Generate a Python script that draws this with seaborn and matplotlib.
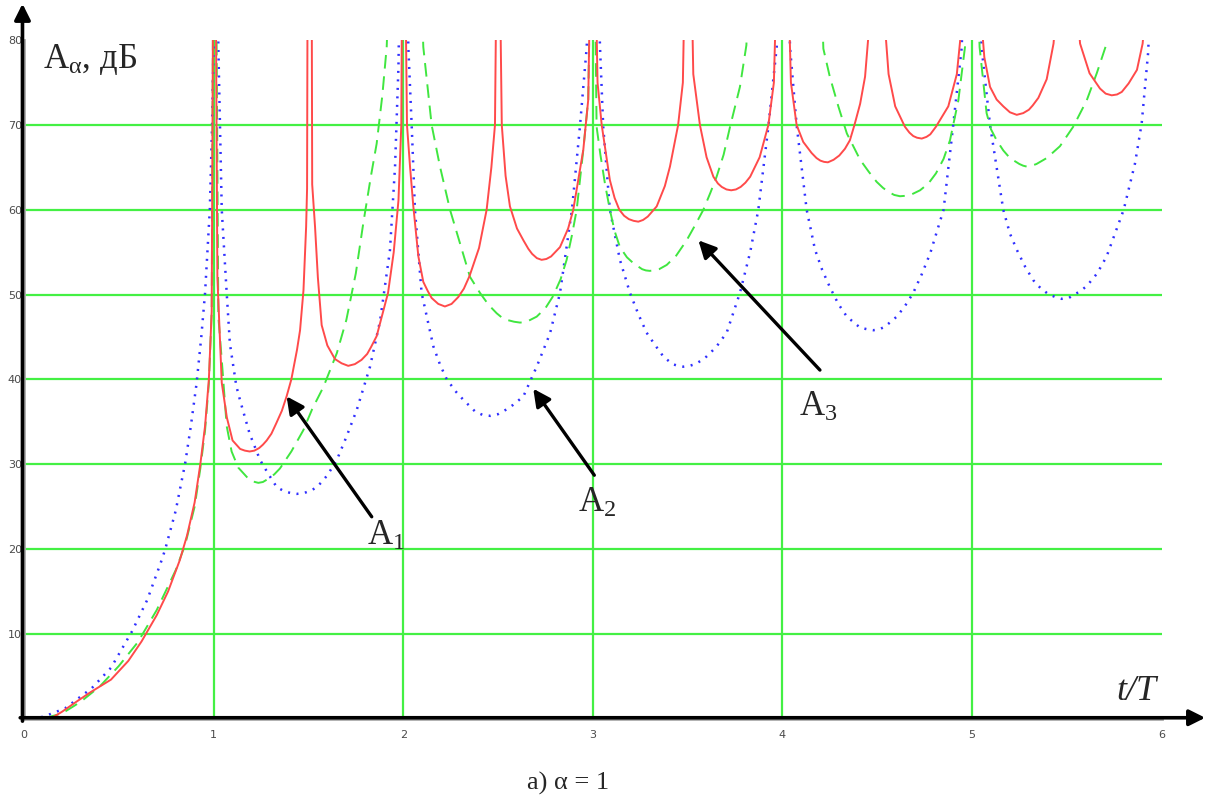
import numpy as np
import pandas as pd
import matplotlib
matplotlib.use("Agg")
import matplotlib.pyplot as plt
import seaborn as sns

# ── Données (t/T, A en dB), segment par segment ──────────────────────────────
# A1 : courbe rouge continue
a1_t = [0.0, 0.1, 0.156, 0.2, 0.277, 0.35, 0.459, 0.55, 0.62, 0.7, 0.76, 0.822, 0.86, 0.9,
        0.93, 0.955, 0.975, 0.99, 1.0,
        1.008, 1.02, 1.043, 1.07, 1.10, 1.14, 1.165, 1.19, 1.215, 1.24, 1.26, 1.28, 1.305,
        1.33, 1.36, 1.385, 1.41, 1.44, 1.456, 1.474, 1.488, 1.493, 1.497,
        1.516, 1.52, 1.535, 1.55, 1.57, 1.6, 1.64, 1.675, 1.71, 1.745, 1.78, 1.81, 1.83, 1.86,
        1.92, 1.95, 1.975, 1.99, 1.997,
        2.005, 2.02, 2.036, 2.053, 2.08, 2.106, 2.13, 2.15, 2.185, 2.22, 2.255, 2.29, 2.32,
        2.35, 2.40, 2.44, 2.465, 2.484, 2.497,
        2.503, 2.52, 2.54, 2.563, 2.6, 2.634, 2.66, 2.68, 2.705, 2.73, 2.755, 2.78, 2.827,
        2.87, 2.897, 2.95, 2.976, 2.995,
        3.005, 3.025, 3.047, 3.09, 3.115, 3.14, 3.165, 3.19, 3.215, 3.24, 3.265, 3.29, 3.337,
        3.38, 3.407, 3.45, 3.475, 3.495,
        3.51, 3.53, 3.565, 3.6, 3.636, 3.66, 3.68, 3.705, 3.73, 3.755, 3.78, 3.805, 3.83,
        3.88, 3.926, 3.955, 3.985,
        4.015, 4.045, 4.075, 4.11, 4.154, 4.18, 4.20, 4.22, 4.24, 4.27, 4.30, 4.33, 4.356,
        4.38, 4.41, 4.436, 4.47,
        4.53, 4.56, 4.595, 4.646, 4.67, 4.69, 4.71, 4.735, 4.76, 4.78, 4.81, 4.875, 4.92, 4.96,
        5.04, 5.065, 5.095, 5.13, 5.165, 5.20, 5.236, 5.27, 5.30, 5.32, 5.35, 5.394, 5.43, 5.45,
        5.55, 5.57, 5.62, 5.675, 5.705, 5.737, 5.765, 5.79, 5.826, 5.87, 5.90, 5.92, 6.0]
a1_db = [0, 0, 0.2, 0.8, 2.0, 3.1, 4.6, 6.8, 9.1, 12.2, 15.0, 18.7, 21.6, 25.5,
         30, 34.5, 40, 48, 100,
         100, 52, 39.6, 35.5, 32.8, 31.8, 31.6, 31.5, 31.6, 31.9, 32.3, 32.8, 33.6,
         34.8, 36.3, 38.0, 40, 43.5, 45.8, 50.5, 58, 62.5, 100,
         100, 63, 58, 52, 46.4, 44, 42.4, 41.9, 41.6, 41.8, 42.3, 43, 43.8, 45.1,
         50.2, 55, 61.1, 70, 100,
         100, 70, 65.1, 60.5, 54.5, 51.5, 50.4, 49.6, 48.9, 48.6, 48.9, 49.7, 50.7,
         52.2, 55.5, 60, 65, 70, 100,
         100, 70, 64, 60.4, 57.8, 56.4, 55.4, 54.8, 54.3, 54.1, 54.2, 54.5, 55.6,
         57.8, 60, 67.1, 73, 100,
         100, 75, 70, 63.5, 61.4, 60, 59.3, 58.9, 58.7, 58.6, 58.8, 59.2, 60.4,
         62.8, 65.1, 70, 75, 100,
         100, 76, 70, 66.2, 63.9, 63.1, 62.7, 62.4, 62.3, 62.4, 62.7, 63.2, 63.9,
         66.2, 70, 75, 100,
         100, 75, 70, 68, 66.7, 66.1, 65.8, 65.65, 65.6, 65.9, 66.4, 67.2, 68.2,
         70, 72.5, 75.7, 85,
         85, 76, 72.2, 69.8, 69.1, 68.7, 68.5, 68.4, 68.6, 68.9, 69.8, 72.2, 76, 85,
         85, 78, 74.5, 73, 72.2, 71.5, 71.2, 71.4, 71.8, 72.3, 73.2, 75.4, 79.6, 85,
         85, 79.6, 76.1, 74.3, 73.7, 73.5, 73.6, 73.9, 74.9, 76.5, 79.6, 85, 90]

# A2 : courbe bleue pointillée
a2_t = [0.0, 0.1, 0.216, 0.358, 0.459, 0.57, 0.65, 0.72, 0.744, 0.8, 0.85, 0.88, 0.91, 0.935,
        0.955, 0.98, 0.992, 1.0, 1.005,
        1.015, 1.025, 1.043, 1.069, 1.086, 1.12, 1.14, 1.19, 1.245, 1.29, 1.333, 1.365, 1.39,
        1.415, 1.438, 1.465, 1.49, 1.515, 1.544, 1.57, 1.60, 1.65, 1.70, 1.755, 1.807, 1.825,
        1.878, 1.93, 1.957, 1.975, 1.99,
        2.012, 2.027, 2.045, 2.062, 2.097, 2.159, 2.195, 2.23, 2.28, 2.317, 2.38, 2.42, 2.46,
        2.50, 2.54, 2.58, 2.634, 2.704, 2.774, 2.827, 2.89, 2.932, 2.968, 2.99,
        3.01, 3.038, 3.055, 3.09, 3.143, 3.196, 3.24, 3.284, 3.33, 3.372, 3.42, 3.45, 3.477,
        3.51, 3.54, 3.57, 3.60, 3.65, 3.706, 3.776, 3.83, 3.873, 3.926, 3.97, 3.99,
        4.02, 4.04, 4.075, 4.128, 4.172, 4.21, 4.25, 4.295, 4.34, 4.41, 4.45, 4.48, 4.51,
        4.54, 4.603, 4.645, 4.69, 4.735, 4.78, 4.85, 4.90, 4.946, 4.97,
        5.03, 5.05, 5.095, 5.165, 5.20, 5.236, 5.28, 5.323, 5.36, 5.40, 5.44, 5.473, 5.51,
        5.54, 5.57, 5.605, 5.66, 5.71, 5.80, 5.86, 5.895, 5.93, 5.95, 6.0]
a2_db = [0, 0.2, 1.2, 3.6, 6.0, 10.3, 14, 18.3, 19.9, 24.5, 30.1, 34.5, 39.5, 45,
         50.2, 60, 70, 80, 100,
         100, 79.2, 60, 50.2, 44.2, 39.2, 37.5, 33.6, 30.5, 28.8, 27.3, 26.9, 26.7,
         26.55, 26.5, 26.55, 26.7, 26.9, 27.3, 27.9, 28.7, 30.5, 33.2, 36.4, 40.2, 41.5,
         46.9, 55.2, 65.1, 76.9, 100,
         100, 79.2, 69.8, 60, 50.2, 43.9, 41.7, 40, 38.5, 37.6, 36.2, 35.8, 35.7,
         35.9, 36.4, 37.0, 38, 41.5, 45.4, 50.2, 60, 69.8, 79.2, 100,
         100, 79.2, 69.8, 60, 54.1, 50.2, 47.7, 45.5, 44.0, 42.7, 41.8, 41.6, 41.5,
         41.6, 41.8, 42.2, 42.7, 43.8, 45.5, 50.2, 55, 60, 69.8, 79.2, 100,
         100, 79.2, 70, 60, 55.3, 52.9, 50.9, 48.9, 47.4, 46.1, 45.9, 45.8, 45.9,
         46.2, 47.4, 48.6, 50.2, 52.4, 54.9, 60, 69.8, 79.2, 100,
         100, 79.2, 70, 60, 57.2, 55.3, 53.3, 51.7, 50.8, 50.1, 49.7, 49.5, 49.6,
         50.0, 50.4, 51, 52.5, 54.5, 60, 65.5, 70.2, 78.8, 100, 100]

# A3 : courbe verte en tirets
a3_t = [0.0, 0.1, 0.2, 0.3, 0.4, 0.5, 0.6, 0.7, 0.8, 0.85, 0.9, 0.93, 0.955, 0.975, 0.99, 1.0,
        1.01, 1.025, 1.043, 1.069, 1.095, 1.13, 1.183, 1.21, 1.236, 1.26, 1.29, 1.32, 1.35,
        1.41, 1.473, 1.52, 1.579, 1.65, 1.70, 1.75, 1.79, 1.83, 1.86, 1.89, 1.913, 1.93,
        2.09, 2.106, 2.15, 2.194, 2.247, 2.30, 2.352, 2.405, 2.45, 2.493, 2.52, 2.55, 2.585,
        2.616, 2.64, 2.66, 2.704, 2.75, 2.79, 2.83, 2.862, 2.89, 2.915, 2.95, 2.976, 2.995,
        3.005, 3.02, 3.04, 3.064, 3.09, 3.115, 3.143, 3.18, 3.214, 3.26, 3.28, 3.30, 3.325,
        3.35, 3.39, 3.44, 3.495, 3.54, 3.583, 3.62, 3.653, 3.69, 3.724, 3.776, 3.81, 3.83,
        4.20, 4.216, 4.25, 4.295, 4.34, 4.41, 4.455, 4.497, 4.53, 4.56, 4.59, 4.62, 4.65,
        4.68, 4.726, 4.77, 4.81, 4.85, 4.884, 4.928, 4.963, 4.99,
        5.01, 5.04, 5.06, 5.077, 5.10, 5.13, 5.165, 5.20, 5.25, 5.27, 5.288, 5.315, 5.34,
        5.394, 5.464, 5.534, 5.605, 5.658, 5.71, 5.73, 6.0]
a3_db = [0, 0, 0.6, 2.0, 3.8, 6.2, 9.0, 12.8, 17.5, 20.5, 25.0, 29.5, 34, 39.5, 48, 100,
         100, 47.4, 42.3, 34.5, 31.5, 29.6, 28.3, 27.95, 27.8, 27.9, 28.3, 28.8, 29.5,
         31.5, 34, 36.5, 39.1, 43.1, 47, 52.5, 58.5, 64, 67.8, 73.5, 79.2, 90,
         90, 79.2, 70, 65.1, 60, 56, 52.1, 50.2, 48.8, 47.8, 47.3, 47.0, 46.8,
         46.7, 46.75, 46.9, 47.4, 48.4, 49.8, 51.8, 54.1, 57, 60, 67.1, 73, 100,
         100, 69.8, 66.5, 63.1, 60, 57.5, 55.6, 54.4, 53.7, 53.0, 52.85, 52.8, 52.85,
         53.0, 53.5, 54.6, 56.4, 58.2, 60, 62, 63.9, 66.5, 69.8, 74.5, 79.4, 90,
         90, 79, 75.7, 72.2, 69, 65.9, 64.5, 63.3, 62.6, 62.1, 61.75, 61.6, 61.65,
         61.8, 62.3, 63.1, 64.3, 66, 68.2, 72.9, 79.2, 100,
         100, 79.2, 75, 71.4, 69.5, 68.2, 67.0, 66.1, 65.4, 65.2, 65.1, 65.2, 65.4,
         66.1, 67.5, 69.8, 72.9, 76.1, 79.6, 90, 95]

x_ticks = [0, 1, 2, 3, 4, 5, 6]
y_ticks = [10, 20, 30, 40, 50, 60, 70, 80]

# flèches d'annotation : étiquette, pointe, queue, position du texte
labels = ["A$_1$", "A$_2$", "A$_3$"]
tips = [(1.385, 38.0), (2.686, 38.9), (3.557, 56.4)]
tails = [(1.834, 23.8), (3.008, 28.7), (4.198, 41.1)]
label_pos = [(1.81, 20.5), (2.92, 24.4), (4.09, 35.7)]

RED = "#ff4a4a"
GREEN_CURVE = "#40e640"
BLUE = "#3030ff"
GRID = "#44f044"

sns.set_style("white")
plt.rcParams["font.family"] = ["Liberation Serif", "DejaVu Serif"]
plt.rcParams["mathtext.fontset"] = "custom"
plt.rcParams["mathtext.rm"] = "Liberation Serif"
plt.rcParams["mathtext.it"] = "Liberation Serif:italic"
plt.rcParams["mathtext.default"] = "regular"

fig = plt.figure(figsize=(12.08, 8.02), dpi=100)
ax = fig.add_axes([24 / 1208, (802 - 718.6) / 802, 1137.6 / 1208, 678.4 / 802])

df1 = pd.DataFrame({"t": a1_t, "A": a1_db})
df2 = pd.DataFrame({"t": a2_t, "A": a2_db})
df3 = pd.DataFrame({"t": a3_t, "A": a3_db})

sns.lineplot(data=df2, x="t", y="A", ax=ax, sort=False, estimator=None,
             color=BLUE, lw=1.8, linestyle=(0, (0.8, 2.6)), zorder=3)
sns.lineplot(data=df3, x="t", y="A", ax=ax, sort=False, estimator=None,
             color=GREEN_CURVE, lw=1.4, linestyle=(0, (7, 4)), zorder=4)
sns.lineplot(data=df1, x="t", y="A", ax=ax, sort=False, estimator=None,
             color=RED, lw=1.4, zorder=5)

ax.set_xlim(0, 6)
ax.set_ylim(0, 80)
ax.set_xticks(x_ticks)
ax.set_yticks(y_ticks)
ax.set_xticklabels([str(v) for v in x_ticks], family="DejaVu Sans", fontsize=8, color="#4a4a4a")
ax.set_yticklabels([str(v) for v in y_ticks], family="DejaVu Sans", fontsize=8, color="#4a4a4a")
ax.tick_params(axis="x", length=0, pad=8)
ax.tick_params(axis="y", length=0, pad=1.5)
ax.set_xlabel("")
ax.set_ylabel("")

ax.grid(True, color=GRID, lw=1.6, zorder=1)
ax.set_axisbelow(True)
ax.yaxis.get_gridlines()[-1].set_visible(False)
ax.xaxis.get_gridlines()[0].set_visible(False)
ax.xaxis.get_gridlines()[-1].set_visible(False)

for side in ["top", "right"]:
    ax.spines[side].set_visible(False)
for side in ["left", "bottom"]:
    ax.spines[side].set_color("#aaaaaa")
    ax.spines[side].set_linewidth(2)

# axes fléchés
arrow_kw = dict(arrowstyle="-|>", lw=2.6, color="black", mutation_scale=24,
                shrinkA=0, shrinkB=0)
ax.annotate("", xy=(-0.008, 84.3), xytext=(-0.008, -0.3), arrowprops=arrow_kw,
            annotation_clip=False, zorder=10)
ax.annotate("", xy=(6.23, 0.1), xytext=(-0.02, 0.1), arrowprops=arrow_kw,
            annotation_clip=False, zorder=10)

# annotations des courbes
for lab, tip, tail, pos in zip(labels, tips, tails, label_pos):
    ax.annotate("", xy=tip, xytext=tail,
                arrowprops=dict(arrowstyle="-|>", lw=2.4, color="black",
                                mutation_scale=26, shrinkA=0, shrinkB=0),
                zorder=8)
    ax.text(pos[0], pos[1], lab, fontsize=25, ha="left", va="baseline", zorder=9)

ax.text(0.1, 76.7, "A$_α$, дБ", fontsize=25, ha="left", va="baseline")
ax.text(5.76, 2.2, "t/T", fontsize=26, style="italic", ha="left", va="baseline")
fig.text(0.470, 0.0237, "а) α = 1", fontsize=19, ha="center", va="center")

fig.savefig("out.png", dpi=100)
plt.close(fig)
